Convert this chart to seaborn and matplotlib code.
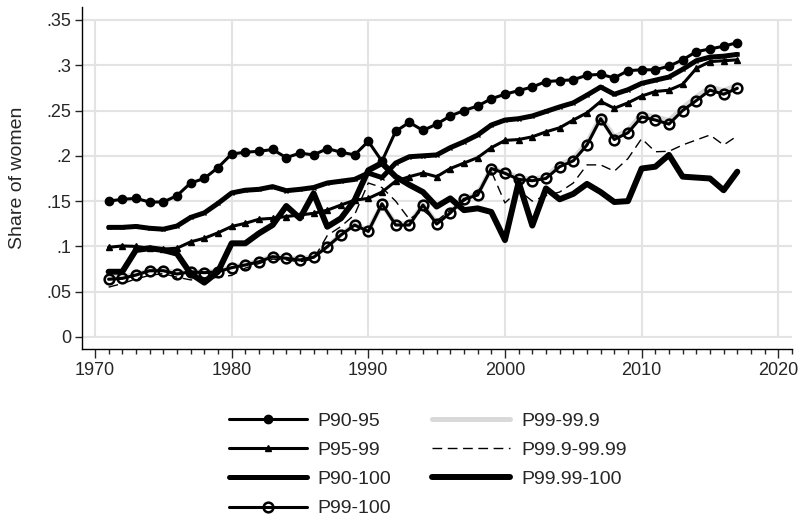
import numpy as np
import pandas as pd
import matplotlib
matplotlib.use("Agg")
import matplotlib.pyplot as plt
from matplotlib.ticker import MultipleLocator
import seaborn as sns

years = list(range(1971, 2018))

p90_95 = [0.150, 0.152, 0.153, 0.149, 0.149, 0.156, 0.170, 0.175, 0.187, 0.202,
          0.204, 0.205, 0.207, 0.198, 0.203, 0.201, 0.208, 0.204, 0.201, 0.216,
          0.194, 0.227, 0.237, 0.228, 0.235, 0.244, 0.250, 0.255, 0.263, 0.268,
          0.272, 0.276, 0.282, 0.283, 0.284, 0.289, 0.290, 0.286, 0.294, 0.295,
          0.295, 0.299, 0.306, 0.315, 0.318, 0.321, 0.325]
p95_99 = [0.099, 0.1005, 0.100, 0.098, 0.097, 0.098, 0.105, 0.109, 0.115, 0.122,
          0.1255, 0.130, 0.131, 0.133, 0.1347, 0.1365, 0.140, 0.1457, 0.151, 0.153,
          0.160, 0.172, 0.177, 0.181, 0.177, 0.186, 0.192, 0.198, 0.209, 0.217,
          0.218, 0.221, 0.2265, 0.231, 0.2395, 0.2475, 0.260, 0.2525, 0.2585, 0.266,
          0.271, 0.2725, 0.279, 0.2965, 0.304, 0.305, 0.306]
p90_100 = [0.121, 0.121, 0.122, 0.120, 0.119, 0.1225, 0.132, 0.137, 0.1475, 0.159,
           0.162, 0.163, 0.166, 0.1615, 0.163, 0.165, 0.170, 0.172, 0.174, 0.181,
           0.176, 0.192, 0.199, 0.200, 0.201, 0.209, 0.2155, 0.223, 0.234, 0.2395,
           0.241, 0.244, 0.249, 0.254, 0.2585, 0.267, 0.276, 0.268, 0.273, 0.280,
           0.2835, 0.287, 0.2955, 0.305, 0.309, 0.310, 0.312]
p99_100 = [0.0637, 0.0647, 0.0684, 0.0732, 0.0732, 0.0695, 0.072, 0.071, 0.072, 0.0765,
           0.0795, 0.083, 0.0887, 0.0868, 0.085, 0.088, 0.0997, 0.1126, 0.1236, 0.1165,
           0.147, 0.1236, 0.1236, 0.1457, 0.1247, 0.137, 0.152, 0.1567, 0.186, 0.1807,
           0.174, 0.1725, 0.175, 0.188, 0.1945, 0.212, 0.241, 0.218, 0.2255, 0.243,
           0.2395, 0.235, 0.250, 0.261, 0.2725, 0.268, 0.2745]
p99_999 = [0.065, 0.066, 0.069, 0.073, 0.074, 0.071, 0.072, 0.072, 0.073, 0.077,
           0.080, 0.084, 0.089, 0.088, 0.086, 0.089, 0.100, 0.113, 0.124, 0.118,
           0.146, 0.125, 0.125, 0.146, 0.126, 0.138, 0.153, 0.158, 0.186, 0.182,
           0.176, 0.174, 0.177, 0.190, 0.197, 0.214, 0.243, 0.221, 0.228, 0.246,
           0.243, 0.239, 0.253, 0.265, 0.276, 0.272, 0.278]
p999_9999 = [0.055, 0.059, 0.064, 0.068, 0.070, 0.066, 0.063, 0.064, 0.066, 0.068,
             0.076, 0.081, 0.086, 0.085, 0.083, 0.086, 0.112, 0.122, 0.135, 0.170,
             0.165, 0.150, 0.130, 0.140, 0.128, 0.140, 0.150, 0.160, 0.183, 0.148,
             0.162, 0.150, 0.156, 0.160, 0.170, 0.190, 0.190, 0.183, 0.197, 0.219,
             0.2045, 0.205, 0.212, 0.2175, 0.223, 0.212, 0.222]
p9999_100 = [0.072, 0.072, 0.096, 0.098, 0.096, 0.092, 0.070, 0.060, 0.072, 0.1034,
             0.1034, 0.1144, 0.1236, 0.1446, 0.131, 0.1586, 0.1217, 0.131, 0.151, 0.184,
             0.192, 0.177, 0.168, 0.160, 0.144, 0.153, 0.140, 0.142, 0.138, 0.107,
             0.171, 0.123, 0.164, 0.152, 0.158, 0.169, 0.160, 0.149, 0.150, 0.186,
             0.188, 0.201, 0.177, 0.176, 0.175, 0.162, 0.1825]

ytick_vals = [0, 0.05, 0.1, 0.15, 0.2, 0.25, 0.3, 0.35]
ytick_labels = ["0", ".05", ".1", ".15", ".2", ".25", ".3", ".35"]
xtick_vals = [1970, 1980, 1990, 2000, 2010, 2020]

sns.set_style("white")
plt.rcParams["font.family"] = ["Liberation Sans", "DejaVu Sans"]
tick_fs = 13
text_fs = 14

fig = plt.figure(figsize=(8.02, 5.19), dpi=100)
ax = fig.add_axes([0.1022, 0.327, 0.8853, 0.660])

# series: label, values, style (gray one first so it sits underneath)
series = [
    ("P99-99.9", p99_999, dict(color="#d9d9d9", lw=3.6, zorder=2)),
    ("P90-95", p90_95, dict(color="black", lw=2.2, marker="o", ms=6, mec="black",
                            mfc="black", mew=1, zorder=3)),
    ("P95-99", p95_99, dict(color="black", lw=2.2, marker="^", ms=5, mec="black",
                            mfc="black", mew=1, zorder=3)),
    ("P90-100", p90_100, dict(color="black", lw=3.6, marker="x", ms=3.5, mec="black",
                              mew=1, zorder=3)),
    ("P99-100", p99_100, dict(color="black", lw=2.2, marker="o", ms=7, mfc="none",
                              mec="black", mew=1.8, zorder=3)),
    ("P99.9-99.99", p999_9999, dict(color="black", lw=1.0, linestyle=(0, (7, 4)), zorder=3)),
    ("P99.99-100", p9999_100, dict(color="black", lw=4.3, zorder=3)),
]

handles = {}
for name, vals, style in series:
    df = pd.DataFrame({"Year": years, "Share": vals})
    sns.lineplot(data=df, x="Year", y="Share", ax=ax, label=name, legend=False, **style)
    handles[name] = ax.get_lines()[-1]

ax.set_xlim(1969.05, 2021.0)
ax.set_ylim(-0.0136, 0.3646)

# stata-like grid limited to the tick range
ax.hlines(ytick_vals, 1969.05, 2021.0, color="#e3e3e3", lw=1.5, zorder=0)
ax.vlines(xtick_vals, 0, 0.35, color="#e3e3e3", lw=1.5, zorder=0)
ax.grid(False)

ax.set_xticks(xtick_vals)
ax.xaxis.set_minor_locator(MultipleLocator(1))
ax.set_yticks(ytick_vals)
ax.set_yticklabels(ytick_labels)
ax.tick_params(axis="x", which="major", length=6.5, width=1, labelsize=tick_fs,
               direction="out", bottom=True, pad=3)
ax.tick_params(axis="x", which="minor", length=3.5, width=1, direction="out", bottom=True)
ax.tick_params(axis="y", which="major", length=4.8, width=1, labelsize=tick_fs,
               direction="out", left=True, pad=3)
for s in ["top", "right"]:
    ax.spines[s].set_visible(False)
for s in ["left", "bottom"]:
    ax.spines[s].set_color("black")
    ax.spines[s].set_linewidth(1.0)

ax.set_xlabel("")
ax.set_ylabel("Share of women", fontsize=text_fs)
ax.yaxis.set_label_coords(-0.079, 0.5)

order = ["P90-95", "P95-99", "P90-100", "P99-100", "P99-99.9", "P99.9-99.99", "P99.99-100"]
fig.legend([handles[k] for k in order], order, ncol=2, frameon=False, fontsize=text_fs,
           loc="upper left", bbox_to_anchor=(229 / 802, 1 - 412 / 519),
           bbox_transform=fig.transFigure, borderpad=0, borderaxespad=0,
           handlelength=4.0, handletextpad=0.57, columnspacing=2.1, labelspacing=0.6,
           numpoints=1)

fig.savefig("out.png", dpi=100)
